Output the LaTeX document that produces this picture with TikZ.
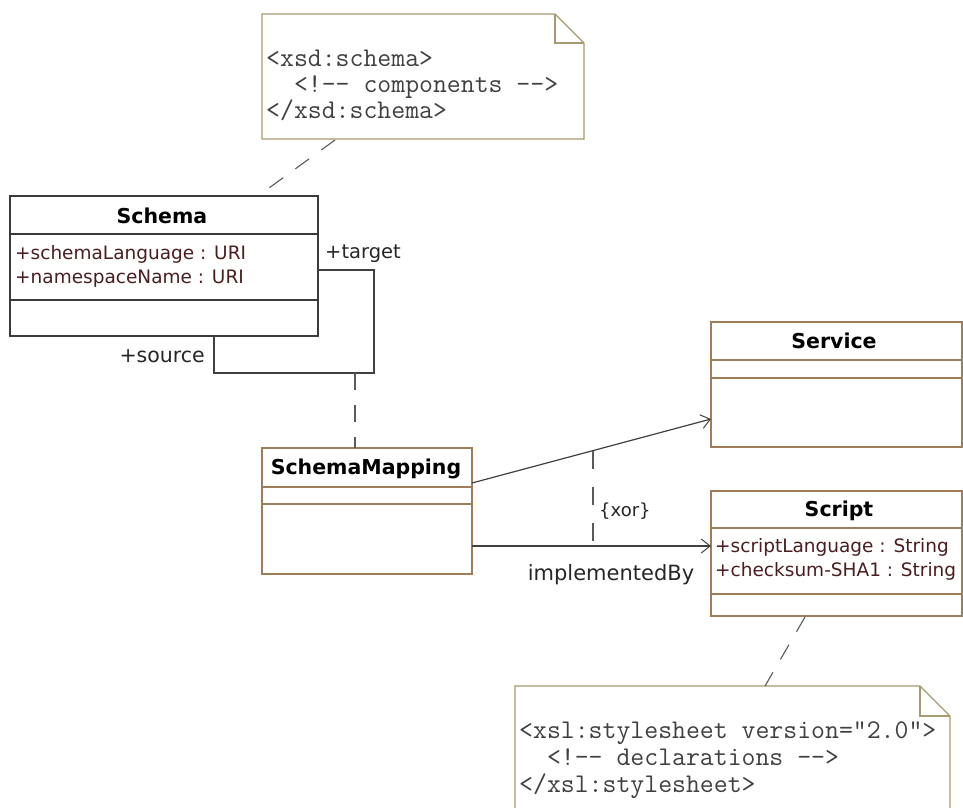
\documentclass[tikz,border=0pt]{standalone}
\usepackage{fontspec}
\newfontfamily\umlfont{DejaVu Sans}
\usetikzlibrary{arrows.meta}

\definecolor{classedge}{HTML}{A07C58}
\definecolor{schemaedge}{HTML}{3A3A3A}
\definecolor{noteedge}{HTML}{A89A70}
\definecolor{attrtext}{HTML}{4A1E1E}
\definecolor{linecol}{HTML}{404040}
\definecolor{dashcol}{HTML}{5A5A5A}

\tikzset{
  classbox/.style={draw=classedge, line width=1.1pt, fill=white, inner sep=0pt, outer sep=0pt, anchor=north west},
  notebox/.style={inner sep=0pt, outer sep=0pt, anchor=north west},
  divider/.style={draw=classedge, line width=1.1pt},
  classname/.style={font=\umlfont\bfseries\fontsize{20.5}{24}\selectfont, inner sep=0pt, anchor=base},
  attr/.style={font=\umlfont\fontsize{18.5}{24}\selectfont, text=attrtext, inner sep=0pt, anchor=base west},
  rolelabel/.style={font=\umlfont\fontsize{19.5}{24}\selectfont, text=black!85, inner sep=0pt},
  code/.style={font=\ttfamily\fontsize{27}{27}\selectfont, text=black!75, inner sep=0pt, anchor=base west},
  assoc/.style={draw=linecol, line width=1.2pt},
  navig/.style={assoc, -{Straight Barb[length=9pt, width=14pt, line width=1pt]}},
  anchorline/.style={draw=dashcol, line width=1.1pt, dash pattern=on 17pt off 15pt},
  noteline/.style={draw=noteedge, line width=1.1pt},
}

\begin{document}
\begin{tikzpicture}[x=1pt, y=-1pt]
  \useasboundingbox (0,0) rectangle (963,807);
  \clip (0,0) rectangle (963,807);
  \fill[white] (0,0) rectangle (963,807);

  % ---------- note attached to Schema ----------
  \node[notebox, minimum width=322pt, minimum height=125pt] (xsdnote) at (262,14) {};
  \draw[noteline, fill=white] (xsdnote.north west) -- ([xshift=-29pt]xsdnote.north east)
    -- ([yshift=-29pt]xsdnote.north east) -- (xsdnote.south east) -- (xsdnote.south west) -- cycle;
  \draw[noteline] ([xshift=-29pt]xsdnote.north east) |- ([yshift=-29pt]xsdnote.north east);
  \node[code] (xsdA) at (266,66.5) {<xsd:schema>};
  \node[code] (xsdB) at (266,92.5) {\hphantom{xx}<!-{}- components -{}->};
  \node[code] (xsdC) at (266,118.5) {</xsd:schema>};

  % ---------- class Schema ----------
  \node[classbox, draw=schemaedge, minimum width=308pt, minimum height=140pt] (schema) at (10,196) {};
  \draw[draw=schemaedge, line width=1.1pt] ([yshift=-38pt]schema.north west) -- ([yshift=-38pt]schema.north east);
  \draw[draw=schemaedge, line width=1.1pt] ([yshift=-104pt]schema.north west) -- ([yshift=-104pt]schema.north east);
  \node[classname] (schemaT) at (162,223) {Schema};
  \node[attr] (schemaA1) at (15,259) {+schemaLanguage : URI};
  \node[attr] (schemaA2) at (15,283) {+namespaceName : URI};

  % ---------- class SchemaMapping ----------
  \node[classbox, minimum width=210pt, minimum height=126pt] (smap) at (262,448) {};
  \draw[divider] ([yshift=-39pt]smap.north west) -- ([yshift=-39pt]smap.north east);
  \draw[divider] ([yshift=-56pt]smap.north west) -- ([yshift=-56pt]smap.north east);
  \node[classname] (smapT) at (366,474) {SchemaMapping};

  % ---------- class Service ----------
  \node[classbox, minimum width=251pt, minimum height=125pt] (service) at (711,322) {};
  \draw[divider] ([yshift=-38pt]service.north west) -- ([yshift=-38pt]service.north east);
  \draw[divider] ([yshift=-56pt]service.north west) -- ([yshift=-56pt]service.north east);
  \node[classname] (serviceT) at (834,348) {Service};

  % ---------- class Script ----------
  \node[classbox, minimum width=251pt, minimum height=125pt] (script) at (711,491) {};
  \draw[divider] ([yshift=-37pt]script.north west) -- ([yshift=-37pt]script.north east);
  \draw[divider] ([yshift=-103pt]script.north west) -- ([yshift=-103pt]script.north east);
  \node[classname] (scriptT) at (839,516.5) {Script};
  \node[attr] (scriptA1) at (715,552.5) {+scriptLanguage : String};
  \node[attr] (scriptA2) at (715,576.5) {+checksum-SHA1 : String};

  % ---------- note attached to Script ----------
  \node[notebox, minimum width=435pt, minimum height=150pt] (xslnote) at (515,686) {};
  \draw[noteline, fill=white] (xslnote.north west) -- ([xshift=-30pt]xslnote.north east)
    -- ([yshift=-30pt]xslnote.north east) -- (xslnote.south east) -- (xslnote.south west) -- cycle;
  \draw[noteline] ([xshift=-30pt]xslnote.north east) |- ([yshift=-30pt]xslnote.north east);
  \node[code] (xslA) at (519,738) {<xsl:stylesheet version="2.0">};
  \node[code] (xslB) at (519,765) {\hphantom{xx}<!-{}- declarations -{}->};
  \node[code] (xslC) at (519,792) {</xsl:stylesheet>};

  % ---------- reflexive association on Schema ----------
  \coordinate (loopR) at (374,373);
  \coordinate (loopL) at (214,373);
  \coordinate (loopMid) at (355,373);
  \draw[assoc] ([yshift=-4pt]schema.east) -| (loopR) -- (loopL) -- (loopL |- schema.south);
  \node[rolelabel, anchor=base west] (target) at (325,258) {+target};
  \node[rolelabel, anchor=base east, font=\umlfont\fontsize{20.5}{24}\selectfont] (source) at (205,362.5) {+source};

  % association class link
  \draw[anchorline] (loopMid) -- (loopMid |- smap.north);

  % note anchors
  \coordinate (xsdFoot) at (335,140);
  \coordinate (schemaTop) at (258,196);
  \draw[anchorline] (xsdFoot) -- (schemaTop);
  \coordinate (scriptFoot) at (805,617);
  \coordinate (xslTop) at (765,686);
  \draw[anchorline] (scriptFoot) -- (xslTop);

  % ---------- navigable associations ----------
  \coordinate (toService) at (711,419);
  \coordinate (fromSmapA) at (472,483);
  \coordinate (fromSmapB) at (472,546);
  \coordinate (toScript) at (711,546);
  \draw[navig] (fromSmapA) -- (toService);
  \draw[navig] (fromSmapB) -- (toScript);
  \node[rolelabel, anchor=base, font=\umlfont\fontsize{21}{24}\selectfont] (implBy) at (611,580) {implementedBy};

  % xor constraint
  \coordinate (xorTop) at (593,450.6);
  \coordinate (xorBot) at (593,546);
  \draw[anchorline, dash pattern=on 18pt off 18pt] (xorTop) -- (xorBot);
  \node[rolelabel, anchor=base west, font=\umlfont\fontsize{18}{24}\selectfont] (xor) at (599,516) {\{xor\}};
\end{tikzpicture}
\end{document}
